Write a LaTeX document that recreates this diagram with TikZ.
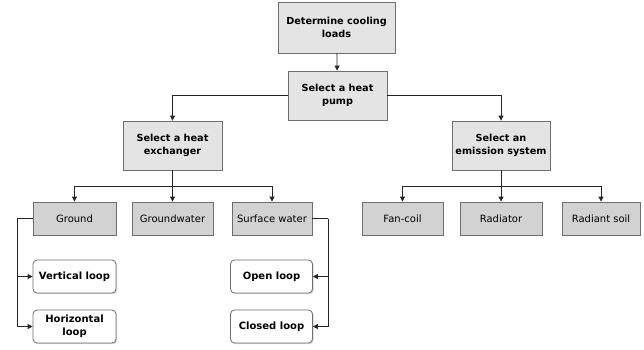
\documentclass[tikz,border=0pt]{standalone}
\usepackage{fontspec}
\setmainfont{DejaVu Sans}
\usetikzlibrary{arrows.meta,shadows}
\definecolor{boxgray}{HTML}{E4E4E4}
\definecolor{subgray}{HTML}{D2D2D2}
\definecolor{edgegray}{HTML}{6E6E6E}

\begin{document}
\begin{tikzpicture}[x=1pt,y=-1pt,
  box/.style={draw=edgegray,line width=0.8pt,inner sep=0pt,align=center,
    drop shadow={shadow xshift=1.2pt,shadow yshift=-1.2pt,opacity=0.35}},
  stepbox/.style={box,fill=boxgray,font=\fontsize{9.7}{13.5}\selectfont\bfseries},
  subbox/.style={box,fill=subgray,minimum height=33pt,font=\fontsize{10}{13}\selectfont},
  loopbox/.style={box,fill=white,rounded corners=4pt,minimum width=82pt,minimum height=33pt,
    font=\fontsize{10}{13}\selectfont\bfseries},
  link/.style={line width=0.8pt,black!85,-{Triangle[length=5pt,width=5pt]}}]
  \useasboundingbox (0,0) rectangle (644,349);

  % top of the tree
  \node[stepbox,minimum width=117pt,minimum height=51pt] (cool) at (336.5,27.5) {Determine cooling\\loads};
  \node[stepbox,minimum width=99pt,minimum height=49pt] (pump) at (337.5,95.5) {Select a heat\\pump};
  \node[stepbox,minimum width=99pt,minimum height=49pt] (exch) at (172.5,145.5) {Select a heat\\exchanger};
  \node[stepbox,minimum width=98pt,minimum height=49pt] (emis) at (501,145.5) {Select an\\emission system};

  % exchangers
  \node[subbox,minimum width=83pt] (ground) at (74.5,218.5) {Ground};
  \node[subbox,minimum width=81pt] (gwater) at (172.5,218.5) {Groundwater};
  \node[subbox,minimum width=80pt] (swater) at (272,218.5) {Surface water};

  % emission systems
  \node[subbox,minimum width=81pt] (fancoil) at (402.5,218.5) {Fan-coil};
  \node[subbox,minimum width=82pt] (radiator) at (501,218.5) {Radiator};
  \node[subbox,minimum width=78pt] (rsoil) at (601,218.5) {Radiant soil};

  % loops
  \node[loopbox,minimum width=83pt] (vloop) at (74.5,276.5) {Vertical loop};
  \node[loopbox,minimum width=83pt] (hloop) at (74.5,326.5) {Horizontal\\loop};
  \node[loopbox] (oloop) at (271.5,276.5) {Open loop};
  \node[loopbox] (cloop) at (271.5,326.5) {Closed loop};

  \draw[link] (cool) -- (pump);
  \draw[link] (pump.west) -| (exch.north);
  \draw[link] (pump.east) -| (emis.north);

  \coordinate (xsplit) at (173,186);
  \coordinate (esplit) at (501,186);
  \draw[link] (exch.south) -- (gwater.north);
  \draw[link] (xsplit) -| (ground.north);
  \draw[link] (xsplit) -| (swater.north);
  \draw[link] (emis.south) -- (radiator.north);
  \draw[link] (esplit) -| (fancoil.north);
  \draw[link] (esplit) -| (rsoil.north);

  \coordinate (gbend) at (17,218.5);
  \coordinate (sbend) at (328,218.5);
  \draw[line width=0.8pt,black!85] (ground.west) -- (gbend);
  \draw[link] (gbend) |- (vloop.west);
  \draw[link] (gbend) |- (hloop.west);
  \draw[line width=0.8pt,black!85] (swater.east) -- (sbend);
  \draw[link] (sbend) |- (oloop.east);
  \draw[link] (sbend) |- (cloop.east);
\end{tikzpicture}
\end{document}
